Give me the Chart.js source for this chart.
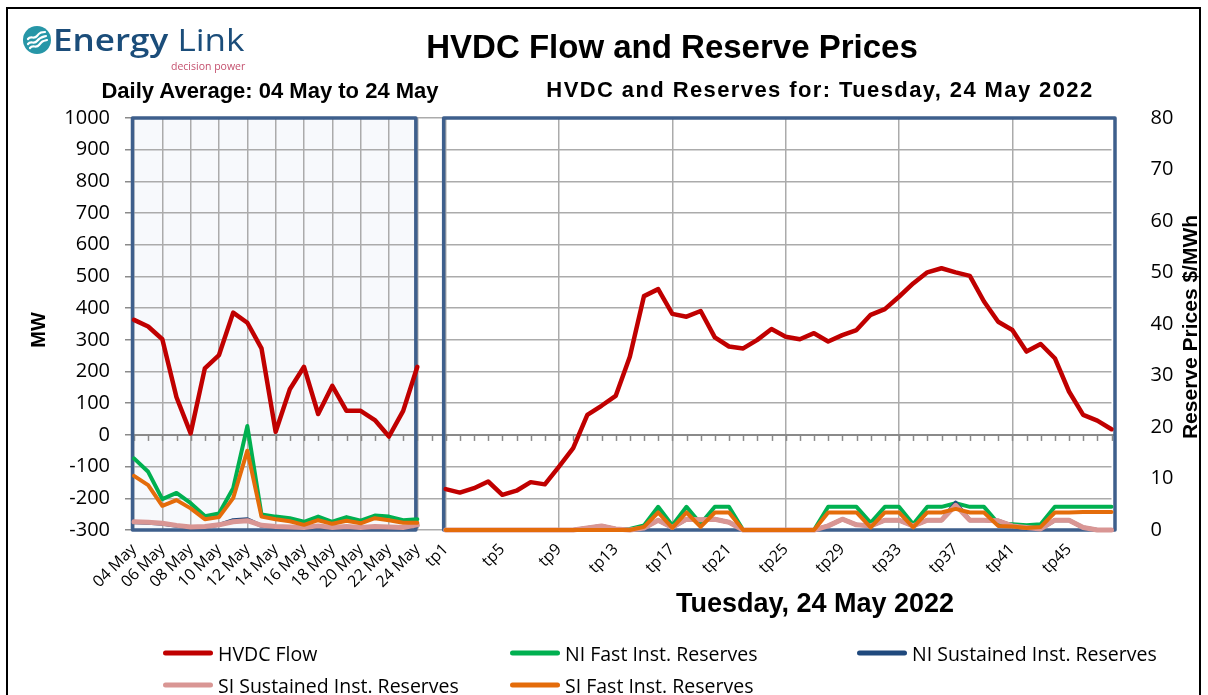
<!DOCTYPE html>
<html>
<head>
<meta charset="utf-8">
<title>HVDC Flow and Reserve Prices</title>
<script src="https://cdn.jsdelivr.net/npm/chart.js@4.4.1/dist/chart.umd.min.js"></script>
<style>
  html, body { margin: 0; padding: 0; background: #fff; }
  body { width: 1208px; height: 695px; position: relative; overflow: hidden; font-family: "Open Sans", "Liberation Sans", sans-serif; }
  #chart { position: absolute; left: 0; top: 0; }
  #frame { position: absolute; left: 6px; top: 7px; width: 1195px; height: 740px; border: 2px solid #000; box-sizing: border-box; pointer-events: none; }
  .t { position: absolute; white-space: nowrap; color: #000; transform: translate(-50%, -50%); }
  .b { font-family: "Liberation Sans", Arial, sans-serif; font-weight: bold; }
  .rot { transform: translate(-50%, -50%) rotate(-90deg); }
  #logo { position: absolute; left: 23px; top: 26px; }
  #logo .name { position: absolute; left: 30px; top: -8px; font-family: "Open Sans", sans-serif; font-size: 31px; color: #1b4d7a; transform: scaleX(1.13); transform-origin: left center; white-space: nowrap; }
  #logo .tag { position: absolute; left: 148px; top: 33px; font-family: "Open Sans", sans-serif; font-size: 10.5px; color: #c4506e; white-space: nowrap; }
  .leg { position: absolute; display: flex; align-items: center; font-size: 19.5px; color: #000; white-space: nowrap; transform: translateY(-50%); }
  .leg i { display: inline-block; width: 50px; height: 5px; border-radius: 3px; margin-right: 5px; }
</style>
</head>
<body>
<canvas id="chart" width="1208" height="695"></canvas>
<div id="frame"></div>

<div id="logo">
  <svg width="28" height="28" viewBox="0 0 28 28">
    <circle cx="14" cy="14" r="14" fill="#2796a7"/>
    <path d="M5 13 C8 9, 11 14, 14 10 S19 6, 22 6" stroke="#fff" stroke-width="2.2" fill="none" stroke-linecap="round"/>
    <path d="M5 18 C8 14, 11 19, 14 15 S19 11, 23 10" stroke="#fff" stroke-width="2.2" fill="none" stroke-linecap="round"/>
    <path d="M7 22 C10 18, 13 23, 16 19 S20 15, 24 14" stroke="#fff" stroke-width="2.2" fill="none" stroke-linecap="round"/>
  </svg>
  <div class="name"><span style="font-weight:600">Energy</span> Link</div>
  <div class="tag">decision power</div>
</div>

<div class="t b" style="left:672px; top:47px; font-size:33px;">HVDC Flow and Reserve Prices</div>
<div class="t b" style="left:270px; top:91px; font-size:22px;">Daily Average: 04 May to 24 May</div>
<div class="t b" style="left:820px; top:90px; font-size:22px; letter-spacing:1.4px;">HVDC and Reserves for: Tuesday, 24 May 2022</div>
<div class="t b rot" style="left:38px; top:330px; font-size:20px;">MW</div>
<div class="t b rot" style="left:1190px; top:327px; font-size:21px;">Reserve Prices $/MWh</div>
<div class="t b" style="left:815px; top:603px; font-size:27px;">Tuesday, 24 May 2022</div>
<div id="legend"></div>

<script>
// ── categories ───────────────────────────────────────────────────────────
const dayLabels = ['04 May', '05 May', '06 May', '07 May', '08 May', '09 May', '10 May',
                   '11 May', '12 May', '13 May', '14 May', '15 May', '16 May', '17 May',
                   '18 May', '19 May', '20 May', '21 May', '22 May', '23 May', '24 May'];
const tpLabels = ['tp1', 'tp2', 'tp3', 'tp4', 'tp5', 'tp6', 'tp7', 'tp8', 'tp9', 'tp10',
                  'tp11', 'tp12', 'tp13', 'tp14', 'tp15', 'tp16', 'tp17', 'tp18', 'tp19', 'tp20',
                  'tp21', 'tp22', 'tp23', 'tp24', 'tp25', 'tp26', 'tp27', 'tp28', 'tp29', 'tp30',
                  'tp31', 'tp32', 'tp33', 'tp34', 'tp35', 'tp36', 'tp37', 'tp38', 'tp39', 'tp40',
                  'tp41', 'tp42', 'tp43', 'tp44', 'tp45', 'tp46', 'tp47', 'tp48'];

// ── HVDC flow, MW (left axis) ────────────────────────────────────────────
const hvdcDaily = [363, 342, 302, 119, 5, 210, 252, 386, 354, 273, 10,
                   144, 215, 66, 155, 76, 76, 47, -5, 76, 215];
const hvdcTp = [-171, -182, -168, -147, -189, -176, -149, -156, -100, -42,
                63, 92, 123, 247, 438, 460, 382, 373, 391, 308,
                279, 273, 300, 334, 310, 302, 321, 295, 315, 331,
                379, 397, 436, 478, 513, 526, 513, 502, 421, 357,
                331, 263, 287, 242, 137, 63, 45, 18];

// ── reserve prices, $/MWh (right axis) ───────────────────────────────────
const niFastDaily = [13.9, 11.3, 6.0, 7.2, 5.2, 2.7, 3.2, 8.1, 20.2, 3.0, 2.6,
                     2.3, 1.6, 2.6, 1.6, 2.5, 1.8, 2.8, 2.6, 1.9, 2.1];
const niFastTp = [0, 0, 0, 0, 0, 0, 0, 0, 0, 0,
                  0, 0, 0, 0.2, 0.9, 4.5, 0.9, 4.5, 1.2, 4.5,
                  4.5, 0, 0, 0, 0, 0, 0, 4.5, 4.5, 4.5,
                  1.4, 4.5, 4.5, 1.1, 4.5, 4.5, 5.2, 4.5, 4.5, 1.3,
                  1.1, 0.9, 1.1, 4.5, 4.5, 4.5, 4.5, 4.5];

const niSustDaily = [1.5, 1.4, 1.2, 0.8, 0.5, 0.6, 1.0, 1.9, 2.1, 0.8, 0.6,
                     0.5, 0.4, 0.7, 0.4, 0.6, 0.4, 0.6, 0.5, 0.4, 0.8];
const niSustTp = [0, 0, 0, 0, 0, 0, 0, 0, 0, 0,
                  0.4, 0.8, 0.2, 0, 0.4, 1.9, 0.5, 2.1, 2.0, 2.1,
                  1.5, 0, 0, 0, 0, 0, 0, 0.8, 2.1, 1.0,
                  0.8, 1.9, 1.9, 0.8, 1.9, 1.9, 5.3, 1.9, 1.9, 1.8,
                  0.8, 0.5, 0.2, 1.9, 1.9, 0.5, 0, 0];

const siSustDaily = [1.6, 1.5, 1.3, 0.9, 0.6, 0.7, 1.0, 1.6, 1.8, 0.9, 0.7,
                     0.6, 0.5, 0.8, 0.5, 0.7, 0.5, 0.7, 0.6, 0.5, 1.0];
const siSustTp = [0, 0, 0, 0, 0, 0, 0, 0, 0, 0,
                  0.4, 0.8, 0.2, 0, 0.4, 1.9, 0.5, 2.1, 2.0, 2.1,
                  1.5, 0, 0, 0, 0, 0, 0, 0.8, 2.1, 1.0,
                  0.8, 1.9, 1.9, 0.8, 1.9, 1.9, 4.8, 1.9, 1.9, 1.8,
                  0.8, 0.5, 0.2, 1.9, 1.9, 0.5, 0, 0];

const siFastDaily = [10.5, 8.7, 4.7, 5.8, 4.2, 2.1, 2.5, 6.2, 15.4, 2.6, 2.1,
                     1.7, 1.0, 1.9, 1.2, 1.8, 1.3, 2.3, 1.9, 1.4, 1.4];
const siFastTp = [0, 0, 0, 0, 0, 0, 0, 0, 0, 0,
                  0, 0, 0, 0, 0.6, 3.4, 0.4, 3.4, 0.6, 3.4,
                  3.4, 0, 0, 0, 0, 0, 0, 3.4, 3.4, 3.4,
                  0.5, 3.4, 3.4, 0.5, 3.4, 3.4, 4.1, 3.4, 3.4, 0.8,
                  0.7, 0.4, 0.6, 3.4, 3.4, 3.5, 3.5, 3.5];

// one category axis: the daily block, one empty slot, then the trading periods
const labels = [...dayLabels, '', ...tpLabels];
const join = (daily, tp) => [...daily, null, ...tp];
const tpStart = dayLabels.length + 1;

const GRID = '#ababab';
const PANEL = '#3e5f8c';
const FONT = '"Open Sans", "Liberation Sans", sans-serif';

function showTickLabel(i) {
    if (i < dayLabels.length) return i % 2 === 0;
    if (i >= tpStart) return (i - tpStart) % 4 === 0;
    return false;
}
function showGrid(i) {
    if (i < dayLabels.length) return i % 2 === 0;
    if (i >= tpStart) return (i - tpStart) % 8 === 0;
    return false;
}

const series = [
    { label: 'HVDC Flow',                   data: join(hvdcDaily, hvdcTp),       color: '#c00000', width: 4.5, axis: 'y',  order: 5 },
    { label: 'NI Fast Inst. Reserves',      data: join(niFastDaily, niFastTp),   color: '#00b050', width: 4,   axis: 'y1', order: 4 },
    { label: 'NI Sustained Inst. Reserves', data: join(niSustDaily, niSustTp),   color: '#1f497d', width: 4,   axis: 'y1', order: 3 },
    { label: 'SI Sustained Inst. Reserves', data: join(siSustDaily, siSustTp),   color: '#d99694', width: 5,   axis: 'y1', order: 2 },
    { label: 'SI Fast Inst. Reserves',      data: join(siFastDaily, siFastTp),   color: '#e46c0a', width: 4,   axis: 'y1', order: 1 },
];

// Panel backgrounds, frames and the x axis line at 0 MW with its small ticks.
const panels = {
    id: 'panels',
    beforeDraw(chart) {
        const { ctx, chartArea: a, scales: { x } } = chart;
        const l = x.getPixelForValue(0) - 1.5, r = x.getPixelForValue(dayLabels.length - 1) - 1.5;
        ctx.save();
        ctx.fillStyle = '#f7f9fc';
        ctx.fillRect(l, a.top, r - l, a.bottom - a.top);
        ctx.restore();
    },
    beforeDatasetsDraw(chart) {
        const { ctx, chartArea: a, scales: { x, y } } = chart;
        const y0 = y.getPixelForValue(0);
        ctx.save();
        ctx.strokeStyle = '#8a8a8a';
        ctx.lineWidth = 2;
        ctx.beginPath();
        ctx.moveTo(a.left - 3, y0);
        ctx.lineTo(a.right + 3, y0);
        ctx.stroke();
        ctx.lineWidth = 1.5;
        for (let i = 0; i < labels.length; i++) {
            const px = Math.round(x.getPixelForValue(i)) + 0.5;
            ctx.beginPath();
            ctx.moveTo(px, y0);
            ctx.lineTo(px, y0 + 6);
            ctx.stroke();
        }
        const boxes = [
            [x.getPixelForValue(0) - 1.5, x.getPixelForValue(dayLabels.length - 1) - 1.5],
            [x.getPixelForValue(tpStart) - 2, x.getPixelForValue(labels.length - 1) + 3.5],
        ];
        ctx.strokeStyle = PANEL;
        ctx.lineWidth = 3.5;
        ctx.lineJoin = 'round';
        for (const [l, r] of boxes) ctx.strokeRect(l, a.top, r - l, a.bottom - a.top);
        ctx.restore();
    },
};

new Chart(document.getElementById('chart'), {
    type: 'line',
    data: {
        labels,
        datasets: series.map(s => ({
            label: s.label,
            data: s.data,
            yAxisID: s.axis,
            order: s.order,
            borderColor: s.color,
            backgroundColor: s.color,
            borderWidth: s.width,
            borderJoinStyle: 'round',
            borderCapStyle: 'round',
            pointRadius: 0,
            tension: 0,
            spanGaps: false,
            clip: false,
        })),
    },
    options: {
        responsive: false,
        animation: false,
        layout: { padding: { top: 118, left: 0, right: 0, bottom: 0 } },
        plugins: { legend: { display: false }, tooltip: { enabled: false } },
        scales: {
            x: {
                type: 'category',
                border: { display: false },
                grid: {
                    drawTicks: false,
                    color: ctx => showGrid(ctx.index) ? GRID : 'transparent',
                    lineWidth: 1.5,
                },
                ticks: {
                    autoSkip: false,
                    minRotation: 45,
                    maxRotation: 45,
                    padding: 10,
                    color: '#000',
                    font: { family: FONT, size: 16 },
                    callback: (v, i) => showTickLabel(i) ? labels[i] : '',
                },
                afterFit(s) { s.height = 165; s.paddingLeft = 0; s.paddingRight = 0; },
            },
            y: {
                position: 'left',
                min: -300, max: 1000,
                border: { display: false },
                grid: { color: GRID, lineWidth: 1.5, tickLength: 9, tickColor: '#8a8a8a' },
                ticks: { stepSize: 100, padding: 15, color: '#000', font: { family: FONT, size: 20 },
                         callback: v => String(v) },
                afterFit(s) { s.width = 134; s.paddingTop = 0; s.paddingBottom = 0; },
            },
            y1: {
                position: 'right',
                min: 0, max: 80,
                border: { display: false },
                grid: { display: false, drawOnChartArea: false },
                ticks: { stepSize: 10, padding: 31, color: '#000', font: { family: FONT, size: 20 } },
                afterFit(s) { s.width = 96.5; s.paddingTop = 0; s.paddingBottom = 0; },
            },
        },
    },
    plugins: [panels],
});

// HTML legend laid out in three columns, two rows, like the original.
const legendPos = [[163, 653], [510, 653], [857, 653], [163, 685], [510, 685]];
const legend = document.getElementById('legend');
series.forEach((s, i) => {
    const el = document.createElement('div');
    el.className = 'leg';
    el.style.left = legendPos[i][0] + 'px';
    el.style.top = legendPos[i][1] + 'px';
    el.innerHTML = `<i style="background:${s.color}"></i>${s.label}`;
    legend.appendChild(el);
});
</script>
</body>
</html>
